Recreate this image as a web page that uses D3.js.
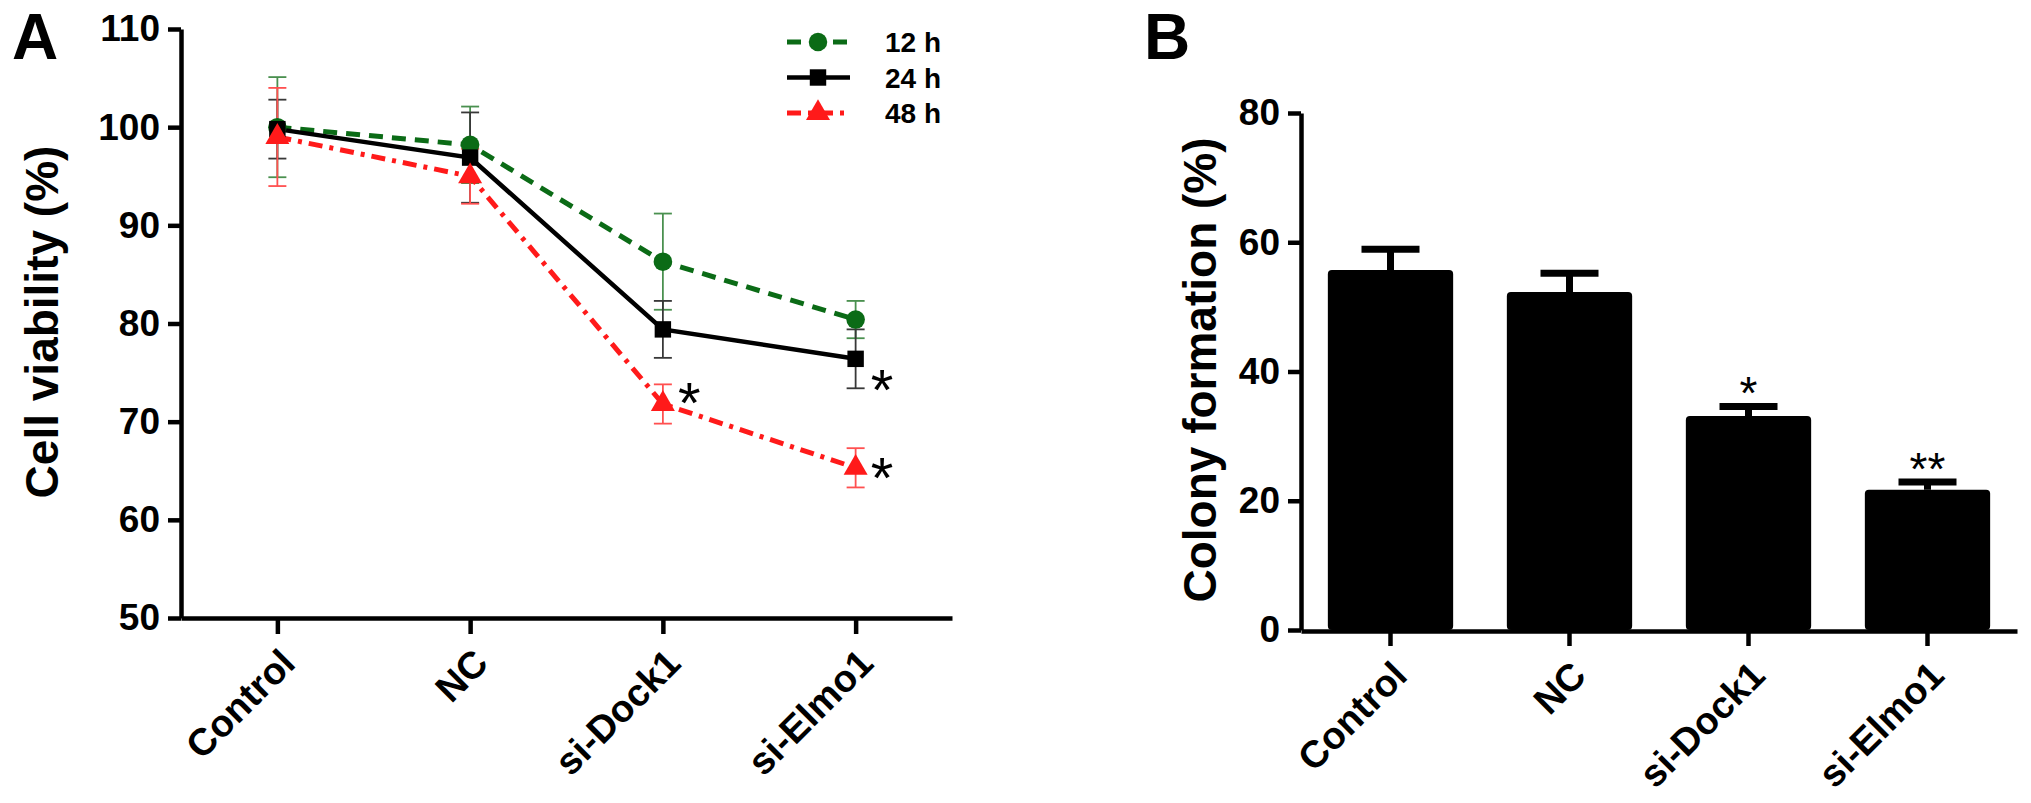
<!DOCTYPE html>
<html lang="en">
<head>
<meta charset="UTF-8">
<title>Cell viability and colony formation</title>
<script src="https://d3js.org/d3.v7.min.js"></script>
<style>
    body { margin: 0; background: #fff; }
    svg { display: block; }
    text { font-family: "Liberation Sans", Arial, sans-serif; }
    .axis path, .axis line { stroke: #000; stroke-width: 4.5; }
    .axis text { font-size: 37px; font-weight: bold; fill: #000; }
    .cat text { font-size: 38px; }
    .ylabel { font-size: 46px; font-weight: bold; }
    .panel { font-size: 64px; font-weight: bold; }
    .legend text { font-size: 28px; font-weight: bold; }
</style>
</head>
<body>
<svg id="chart" width="2031" height="803"></svg>
<script>
// data
const categories = ["Control", "NC", "si-Dock1", "si-Elmo1"];
const viab12 = [100.0, 98.2, 86.3, 80.4];
const viab12Err = [5.1, 3.9, 4.9, 1.9];
const viab24 = [99.8, 96.9, 79.4, 76.4];
const viab24Err = [3.0, 4.6, 2.9, 3.0];
const viab48 = [99.0, 95.0, 71.8, 65.3];
const viab48Err = [5.0, 2.8, 2.0, 2.0];
const viabTicks = [50, 60, 70, 80, 90, 100, 110];
const seriesNames = ["12 h", "24 h", "48 h"];
// asterisks in panel A: [category, value]
const viabStars = [["si-Dock1", 73.2], ["si-Elmo1", 74.6], ["si-Elmo1", 65.6]];

const colony = [55.7, 52.3, 33.1, 21.7];
const colonyErr = [3.2, 2.9, 1.5, 1.2];
const colonyTicks = [0, 20, 40, 60, 80];
const colonyStars = ["", "", "*", "**"];

const svg = d3.select("#chart");

// ---------- panel A ----------
const xA = d3.scalePoint().domain(categories).range([181, 952]).padding(0.5);
const yA = d3.scaleLinear().domain([50, 110]).range([618, 29]);

const series = [
    { name: seriesNames[0], vals: viab12, err: viab12Err, color: "#0b6b16", errColor: "#4a904f", dash: "14,9", width: 5, shape: d3.symbolCircle, size: 270 },
    { name: seriesNames[1], vals: viab24, err: viab24Err, color: "#000", errColor: "#383838", dash: null, width: 4.5, shape: d3.symbolSquare, size: 270 },
    { name: seriesNames[2], vals: viab48, err: viab48Err, color: "#ff1a1a", errColor: "#ff5050", dash: "14,7,4,7", width: 5, shape: d3.symbolTriangle, size: 250 }
];

svg.append("text").attr("class", "panel").attr("x", 12).attr("y", 59).text("A");

svg.append("g")
    .attr("class", "axis")
    .attr("transform", "translate(181,0)")
    .call(d3.axisLeft(yA).tickValues(viabTicks).tickSize(13).tickPadding(8).tickSizeOuter(0));

svg.append("g")
    .attr("class", "axis cat")
    .attr("transform", "translate(0,618)")
    .call(d3.axisBottom(xA).tickSize(16).tickSizeOuter(0))
    .selectAll("text")
    .attr("text-anchor", "end")
    .attr("dy", null)
    .attr("transform", "translate(6,34) rotate(-45)");

svg.append("text")
    .attr("class", "ylabel")
    .attr("transform", "translate(58,322) rotate(-90)")
    .attr("text-anchor", "middle")
    .text("Cell viability (%)");

// error bars
series.forEach(function(s) {
    const g = svg.append("g").attr("stroke", s.errColor).attr("stroke-width", 1.8);
    categories.forEach(function(c, i) {
        const x = xA(c), lo = yA(s.vals[i] - s.err[i]), hi = yA(s.vals[i] + s.err[i]);
        g.append("line").attr("x1", x).attr("x2", x).attr("y1", lo).attr("y2", hi);
        g.append("line").attr("x1", x - 9).attr("x2", x + 9).attr("y1", lo).attr("y2", lo);
        g.append("line").attr("x1", x - 9).attr("x2", x + 9).attr("y1", hi).attr("y2", hi);
    });
});

const line = d3.line().x(function(d, i) { return xA(categories[i]); }).y(function(d) { return yA(d); });

series.forEach(function(s) {
    svg.append("path")
        .datum(s.vals)
        .attr("d", line)
        .attr("fill", "none")
        .attr("stroke", s.color)
        .attr("stroke-width", s.width)
        .attr("stroke-dasharray", s.dash);
});

series.forEach(function(s) {
    svg.append("g").selectAll("path")
        .data(s.vals)
        .enter().append("path")
        .attr("transform", function(d, i) { return "translate(" + xA(categories[i]) + "," + yA(d) + ")"; })
        .attr("d", d3.symbol().type(s.shape).size(s.size))
        .attr("fill", s.color);
});

svg.append("g").selectAll("text")
    .data(viabStars)
    .enter().append("text")
    .attr("x", function(d) { return xA(d[0]) + 15; })
    .attr("y", function(d) { return yA(d[1]) + 33; })
    .attr("font-size", 58)
    .text("*");

// legend
const legend = svg.append("g").attr("class", "legend");
series.forEach(function(s, i) {
    const ly = 42 + i * 35.5;
    legend.append("line")
        .attr("x1", 787).attr("x2", 850).attr("y1", ly).attr("y2", ly)
        .attr("stroke", s.color).attr("stroke-width", s.width)
        .attr("stroke-dasharray", s.dash);
    legend.append("path")
        .attr("transform", "translate(818," + ly + ")")
        .attr("d", d3.symbol().type(s.shape).size(s.size))
        .attr("fill", s.color);
    legend.append("text").attr("x", 885).attr("y", ly + 10).text(s.name);
});

// ---------- panel B ----------
const xB = d3.scaleBand().domain(categories).range([1301, 2017]).paddingInner(0.3).paddingOuter(0.15);
const yB = d3.scaleLinear().domain([0, 80]).range([630, 113]);

svg.append("text").attr("class", "panel").attr("x", 1144).attr("y", 59).text("B");

svg.append("g").selectAll("rect")
    .data(colony)
    .enter().append("rect")
    .attr("x", function(d, i) { return xB(categories[i]); })
    .attr("y", function(d) { return yB(d); })
    .attr("width", xB.bandwidth())
    .attr("height", function(d) { return yB(0) - yB(d); })
    .attr("rx", 4)
    .attr("fill", "#000");

const eb = svg.append("g").attr("stroke", "#000").attr("stroke-width", 7);
colony.forEach(function(d, i) {
    const cx = xB(categories[i]) + xB.bandwidth() / 2;
    const top = yB(d + colonyErr[i]);
    eb.append("line").attr("x1", cx).attr("x2", cx).attr("y1", yB(d)).attr("y2", top);
    eb.append("line").attr("x1", cx - 29).attr("x2", cx + 29).attr("y1", top).attr("y2", top);
});

svg.append("g").selectAll("text")
    .data(colonyStars)
    .enter().append("text")
    .attr("x", function(d, i) { return xB(categories[i]) + xB.bandwidth() / 2; })
    .attr("y", function(d, i) { return yB(colony[i] + colonyErr[i]) + 3; })
    .attr("text-anchor", "middle")
    .attr("font-size", 46)
    .text(function(d) { return d; });

svg.append("g")
    .attr("class", "axis")
    .attr("transform", "translate(1301,0)")
    .call(d3.axisLeft(yB).tickValues(colonyTicks).tickSize(13).tickPadding(8).tickSizeOuter(0));

svg.append("g")
    .attr("class", "axis cat")
    .attr("transform", "translate(0,631)")
    .call(d3.axisBottom(xB).tickSize(15).tickSizeOuter(0))
    .selectAll("text")
    .attr("text-anchor", "end")
    .attr("dy", null)
    .attr("transform", "translate(6,34) rotate(-45)");

svg.append("text")
    .attr("class", "ylabel")
    .attr("transform", "translate(1216,370) rotate(-90)")
    .attr("text-anchor", "middle")
    .text("Colony formation (%)");
</script>
</body>
</html>
